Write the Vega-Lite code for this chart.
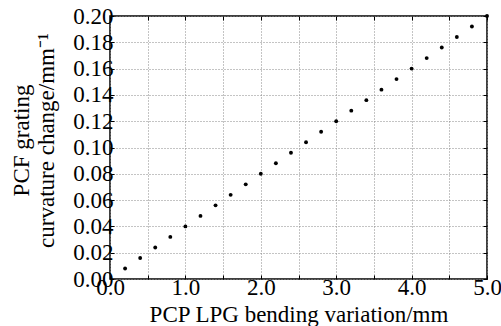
{
  "$schema": "https://vega.github.io/schema/vega-lite/v6.json",
  "width": 377,
  "height": 263,
  "autosize": "none",
  "padding": {"left": 110, "top": 16, "right": 14, "bottom": 47},
  "background": "white",
  "config": {
    "view": {"stroke": "black", "strokeWidth": 1.5},
    "axis": {"labelFont": "Liberation Serif", "titleFont": "Liberation Serif", "labelColor": "black", "titleColor": "black", "titleFontWeight": "normal"}
  },
  "data": {"values": [
    {"x": 0.2, "y": 0.008}, {"x": 0.4, "y": 0.016}, {"x": 0.6, "y": 0.024}, {"x": 0.8, "y": 0.032}, {"x": 1.0, "y": 0.040},
    {"x": 1.2, "y": 0.048}, {"x": 1.4, "y": 0.056}, {"x": 1.6, "y": 0.064}, {"x": 1.8, "y": 0.072}, {"x": 2.0, "y": 0.080},
    {"x": 2.2, "y": 0.088}, {"x": 2.4, "y": 0.096}, {"x": 2.6, "y": 0.104}, {"x": 2.8, "y": 0.112}, {"x": 3.0, "y": 0.120},
    {"x": 3.2, "y": 0.128}, {"x": 3.4, "y": 0.136}, {"x": 3.6, "y": 0.144}, {"x": 3.8, "y": 0.152}, {"x": 4.0, "y": 0.160},
    {"x": 4.2, "y": 0.168}, {"x": 4.4, "y": 0.176}, {"x": 4.6, "y": 0.184}, {"x": 4.8, "y": 0.192}, {"x": 5.0, "y": 0.200}
  ]},
  "layer": [
    {
      "mark": {"type": "circle", "color": "black", "opacity": 0, "size": 1, "clip": false},
      "encoding": {
        "x": {
          "field": "x", "type": "quantitative",
          "scale": {"domain": [0, 5], "nice": false, "zero": false},
          "axis": {
            "orient": "top", "title": null, "labels": false, "grid": false, "domain": false,
            "values": [0, 0.5, 1, 1.5, 2, 2.5, 3, 3.5, 4, 4.5, 5],
            "tickSize": -4, "tickColor": "black"
          }
        },
        "y": {
          "field": "y", "type": "quantitative",
          "scale": {"domain": [0, 0.2], "nice": false, "zero": false},
          "axis": {
            "orient": "right", "title": null, "labels": false, "grid": false, "domain": false,
            "values": [0, 0.02, 0.04, 0.06, 0.08, 0.1, 0.12, 0.14, 0.16, 0.18, 0.2],
            "tickSize": -4, "tickColor": "black"
          }
        }
      }
    },
    {
      "mark": {"type": "circle", "color": "black", "opacity": 1, "size": 15, "clip": false},
      "encoding": {
        "x": {
          "field": "x", "type": "quantitative",
          "scale": {"domain": [0, 5], "nice": false, "zero": false},
          "axis": {
            "orient": "bottom",
            "title": "PCP LPG bending variation/mm",
            "titleFontSize": 23, "titlePadding": 4,
            "values": [0, 0.5, 1, 1.5, 2, 2.5, 3, 3.5, 4, 4.5, 5],
            "labelExpr": "datum.value % 1 == 0 ? format(datum.value, '.1f') : ''",
            "labelFontSize": 23, "labelPadding": 1, "labelFlush": false, "labelOverlap": false,
            "tickSize": -4, "tickColor": "black", "domain": false,
            "grid": true, "gridColor": "#888", "gridDash": [1, 2], "gridWidth": 1
          }
        },
        "y": {
          "field": "y", "type": "quantitative",
          "scale": {"domain": [0, 0.2], "nice": false, "zero": false},
          "axis": {
            "orient": "left",
            "title": ["PCF grating", "curvature change/mm⁻¹"],
            "titleFontSize": 23, "titleLineHeight": 25, "titlePadding": 14, "titleY": 124,
            "values": [0, 0.02, 0.04, 0.06, 0.08, 0.1, 0.12, 0.14, 0.16, 0.18, 0.2],
            "format": ".2f",
            "labelFontSize": 23, "labelPadding": 1, "labelFlush": false, "labelOverlap": false,
            "tickSize": -4, "tickColor": "black", "domain": false,
            "grid": true, "gridColor": "#888", "gridDash": [1, 2], "gridWidth": 1
          }
        }
      }
    }
  ],
  "resolve": {"axis": {"x": "independent", "y": "independent"}}
}
